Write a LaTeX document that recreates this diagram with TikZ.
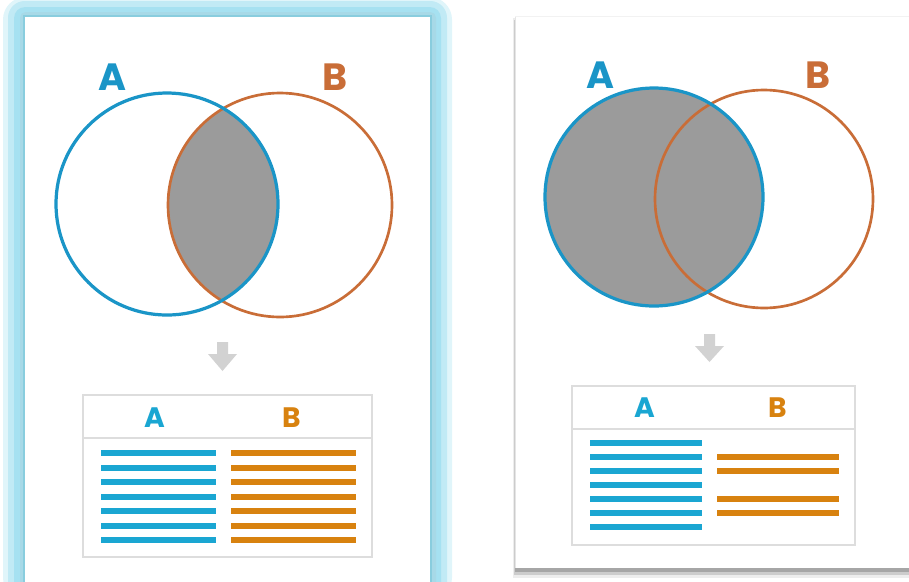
\documentclass[tikz,border=0pt]{standalone}
\usepackage{fontspec}
\setmainfont{Poppins}
\usetikzlibrary{positioning}

\definecolor{setblue}{HTML}{1A95C7}
\definecolor{setorange}{HTML}{C96D37}
\definecolor{rowblue}{HTML}{1AA6D2}
\definecolor{roworange}{HTML}{D8820F}
\definecolor{overlap}{HTML}{9B9B9B}
\definecolor{frameline}{HTML}{DDDDDD}
\definecolor{glowlight}{HTML}{A6E1F1}
\definecolor{glowdark}{HTML}{6CC0D6}
\definecolor{hintgray}{HTML}{D2D2D2}

\tikzset{
	setlabel/.style={font=\bfseries\fontsize{27}{27}\selectfont, inner sep=0pt},
	collabel/.style={font=\bfseries\fontsize{20}{20}\selectfont, inner sep=0pt},
	ringA/.style={draw=setblue, line width=2.3pt},
	ringB/.style={draw=setorange, line width=1.9pt},
	rowA/.style={draw=rowblue, line width=4.2pt},
	rowB/.style={draw=roworange, line width=4.2pt},
	tablebox/.style={draw=frameline, line width=1pt}
}

\begin{document}
\begin{tikzpicture}[x=0.025cm, y=-0.025cm]
	\useasboundingbox (0,0) rectangle (909,581);

	% left card with glow
	\fill[glowlight!35, rounded corners=16] (3,-3) rectangle (452,600);
	\fill[glowlight!70, rounded corners=12] (8,1) rectangle (447,600);
	\fill[glowlight, rounded corners=8] (14,7) rectangle (441,600);
	\fill[glowdark!60, rounded corners=4] (20,12) rectangle (436,600);
	\fill[glowdark!80] (23,15) rectangle (432,600);
	\fill[white] (25,17) rectangle (430,600);

	% right card with shadow
	\fill[black!7] (513,18) rectangle (915,578);
	\fill[black!20] (514,20) rectangle (915,575);
	\fill[black!35] (515,22) rectangle (915,572);
	\fill[white] (515,16) rectangle (915,568);
	\draw[black!10, line width=0.5pt] (515,16) -- (515,568);
	\draw[black!5, line width=0.5pt] (515,16) -- (915,16);

	% left: intersection
	\begin{scope}
		\clip (167,204) circle [radius=111];
		\fill[overlap] (280,205) circle [radius=112];
	\end{scope}
	\draw[ringB] (280,205) circle [radius=112];
	\draw[ringA] (167,204) circle [radius=111];
	\node[setlabel, text=setblue]   (leftA) at (112,77) {A};
	\node[setlabel, text=setorange] (leftB) at (335,77) {B};

	\fill[hintgray] (217,342) -- (228,342) -- (228,354) -- (237,354) -- (222.5,371)
		-- (208,354) -- (217,354) -- cycle;

	\draw[tablebox] (83,395) rectangle (372,557);
	\draw[tablebox] (83,438) -- (372,438);
	\node[collabel, text=rowblue]   (leftcolA) at (155,418) {A};
	\node[collabel, text=roworange] (leftcolB) at (292,418) {B};
	\foreach \i in {0,...,6}
	{
		\draw[rowA] (101,453+14.55*\i) -- (216,453+14.55*\i);
		\draw[rowB] (231,453+14.55*\i) -- (356,453+14.55*\i);
	}

	% right: all of A
	\fill[overlap] (654,197) circle [radius=109];
	\draw[ringB] (764,199) circle [radius=109];
	\draw[ringA] (654,197) circle [radius=109];
	\node[setlabel, text=setblue]   (rightA) at (600,75) {A};
	\node[setlabel, text=setorange] (rightB) at (818,75) {B};

	\fill[hintgray] (704,334) -- (715,334) -- (715,346) -- (724,346) -- (709.5,362)
		-- (695,346) -- (704,346) -- cycle;

	\draw[tablebox] (572,386) rectangle (855,545);
	\draw[tablebox] (572,429) -- (855,429);
	\node[collabel, text=rowblue]   (rightcolA) at (645,408) {A};
	\node[collabel, text=roworange] (rightcolB) at (778,408) {B};
	\foreach \i in {0,...,6}
		\draw[rowA] (590,443+14*\i) -- (702,443+14*\i);
	\foreach \y in {457,471,499,513}
		\draw[rowB] (717,\y) -- (839,\y);
\end{tikzpicture}
\end{document}
